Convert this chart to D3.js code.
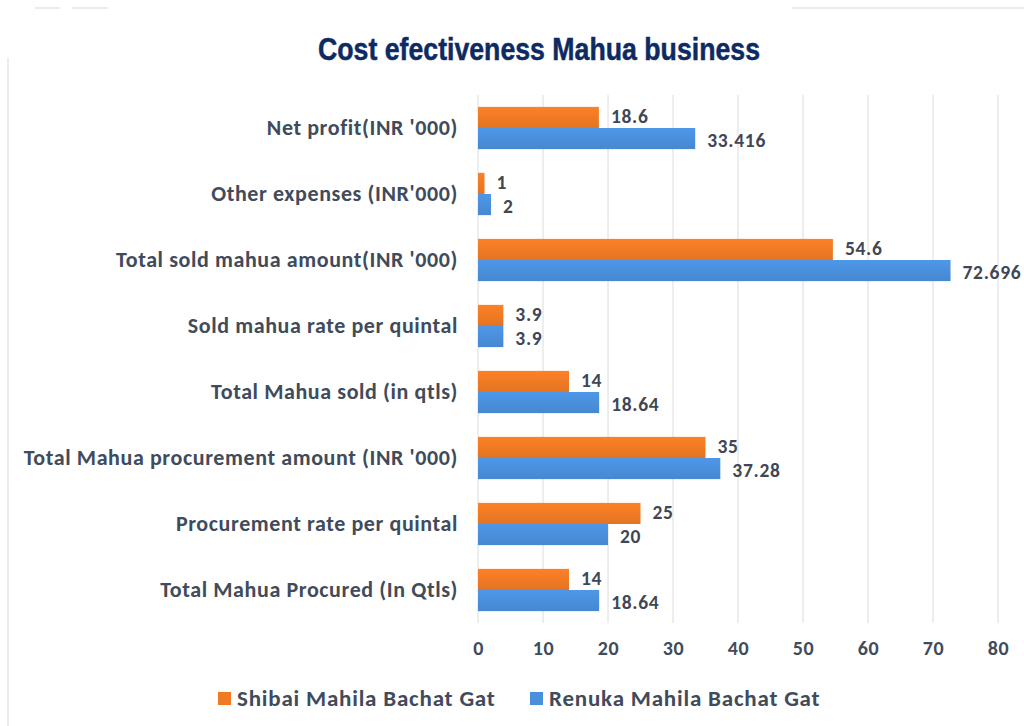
<!DOCTYPE html>
<head>
  <meta charset="utf-8">
  <script src="https://d3js.org/d3.v7.min.js"></script>
  <style>
    body { margin: 0; background: #fff; }
  </style>
</head>
<body>
  <script>
    var categories = [
      "Net profit(INR '000)",
      "Other expenses (INR'000)",
      "Total sold mahua amount(INR '000)",
      "Sold mahua rate per quintal",
      "Total Mahua sold (in qtls)",
      "Total Mahua procurement amount (INR '000)",
      "Procurement rate per quintal",
      "Total Mahua Procured (In Qtls)"
    ];
    var shibai = [18.6, 1, 54.6, 3.9, 14, 35, 25, 14];
    var renuka = [33.416, 2, 72.696, 3.9, 18.64, 37.28, 20, 18.64];
    var seriesNames = ["Shibai Mahila Bachat Gat", "Renuka Mahila Bachat Gat"];
    var tickValues = [0, 10, 20, 30, 40, 50, 60, 70, 80];

    var width = 1024, height = 726;
    var plot = { left: 478, right: 998, top: 95, bottom: 623 };
    var colors = ["#f07a24", "#4a8fdc"];

    var svg = d3.select('body').append('svg')
      .attr('width', width)
      .attr('height', height);

    // faint frame bits
    svg.append('line').attr('x1', 8).attr('x2', 8).attr('y1', 58).attr('y2', 726)
      .attr('stroke', '#e6e6e6').attr('stroke-width', 1.5);
    svg.append('line').attr('x1', 35).attr('x2', 60).attr('y1', 8).attr('y2', 8)
      .attr('stroke', '#ebebeb').attr('stroke-width', 2);
    svg.append('line').attr('x1', 72).attr('x2', 108).attr('y1', 8).attr('y2', 8)
      .attr('stroke', '#ebebeb').attr('stroke-width', 2);
    svg.append('line').attr('x1', 792).attr('x2', 1024).attr('y1', 8).attr('y2', 8)
      .attr('stroke', '#ebebeb').attr('stroke-width', 2);

    var defs = svg.append('defs');
    colors.forEach(function(c, i) {
      var g = defs.append('linearGradient').attr('id', 'grad' + i)
        .attr('x1', '0%').attr('y1', '0%').attr('x2', '0%').attr('y2', '100%');
      g.append('stop').attr('offset', 0).attr('stop-color', d3.color(c).brighter(0.15));
      g.append('stop').attr('offset', 1).attr('stop-color', d3.color(c).darker(0.15));
    });

    // condensed heavy title
    svg.append('text')
      .attr('x', 318).attr('y', 60)
      .attr('textLength', 442)
      .attr('lengthAdjust', 'spacingAndGlyphs')
      .style('font-family', "'Liberation Sans', Arial, sans-serif")
      .style('font-weight', 'bold')
      .style('font-size', '32px')
      .style('fill', '#0e2a63')
      .style('stroke', '#0e2a63').style('stroke-width', 0.5)
      .text('Cost efectiveness Mahua business');

    var x = d3.scaleLinear().domain([0, 80]).range([plot.left, plot.right]);
    var y = d3.scaleBand().domain(categories).range([plot.top, plot.bottom]).paddingInner(0.36).paddingOuter(0.18);
    var sub = d3.scaleBand().domain([0, 1]).range([0, y.bandwidth()]);

    // gridlines
    svg.append('g').selectAll('line').data(tickValues).enter().append('line')
      .attr('x1', function(d) { return x(d); })
      .attr('x2', function(d) { return x(d); })
      .attr('y1', plot.top).attr('y2', plot.bottom)
      .attr('stroke', '#dcdcdc').attr('stroke-width', 1);

    var font = "Carlito, 'Open Sans', 'Noto Sans', sans-serif";

    // x axis labels
    var xAxis = svg.append('g')
      .attr('transform', 'translate(0,' + (plot.bottom + 18) + ')')
      .call(d3.axisBottom(x).tickValues(tickValues).tickSize(0).tickPadding(0));
    xAxis.select('.domain').remove();
    xAxis.selectAll('text')
      .style('font-family', font).style('font-weight', 'bold')
      .style('font-size', '20px').style('letter-spacing', '0.5px').style('fill', '#404b5c');

    // y axis labels
    var yAxis = svg.append('g')
      .attr('transform', 'translate(' + (plot.left - 20) + ',0)')
      .call(d3.axisLeft(y).tickSize(0).tickPadding(0));
    yAxis.select('.domain').remove();
    yAxis.selectAll('text')
      .style('font-family', font).style('font-weight', 'bold')
      .style('font-size', '22px').style('letter-spacing', '0.6px').style('fill', '#404b5c');

    var series = [shibai, renuka];
    var labelShift = [-1.5, 1.5];
    series.forEach(function(vals, si) {
      var g = svg.append('g');
      g.selectAll('rect').data(vals).enter().append('rect')
        .attr('x', x(0))
        .attr('y', function(d, i) { return y(categories[i]) + sub(si); })
        .attr('width', function(d) { return x(d) - x(0); })
        .attr('height', sub.bandwidth())
        .attr('fill', 'url(#grad' + si + ')');
      g.selectAll('text').data(vals).enter().append('text')
        .attr('x', function(d) { return x(d) + 12; })
        .attr('y', function(d, i) { return y(categories[i]) + sub(si) + sub.bandwidth() / 2 + labelShift[si]; })
        .attr('dy', '0.35em')
        .style('font-family', font).style('font-weight', 'bold')
        .style('font-size', '19.5px').style('letter-spacing', '0.7px').style('fill', '#3f4755')
        .text(function(d) { return d; });
    });

    // legend
    var legendX = [218, 530];
    var legend = svg.append('g').selectAll('g').data(seriesNames).enter().append('g')
      .attr('transform', function(d, i) { return 'translate(' + legendX[i] + ',698)'; });
    legend.append('rect')
      .attr('x', 0).attr('y', -6).attr('width', 13).attr('height', 13)
      .attr('fill', function(d, i) { return colors[i]; });
    legend.append('text')
      .attr('x', 19).attr('y', 0).attr('dy', '0.35em')
      .style('font-family', font).style('font-weight', 'bold')
      .style('font-size', '23px').style('letter-spacing', '0.8px').style('fill', '#404b5c')
      .text(function(d) { return d; });
  </script>
</body>
